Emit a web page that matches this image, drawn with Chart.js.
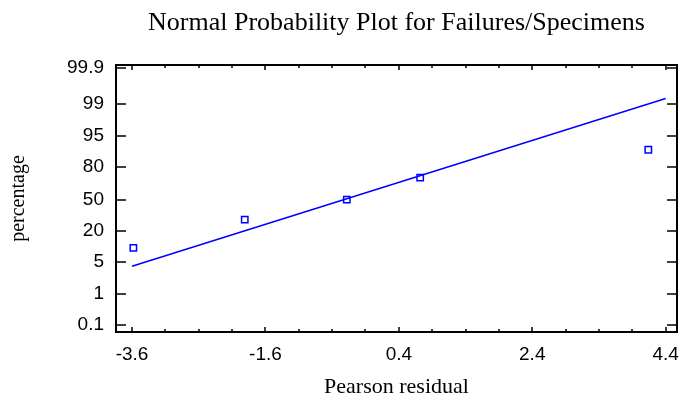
<!DOCTYPE html>
<html>
<head>
<meta charset="utf-8">
<script src="https://cdn.jsdelivr.net/npm/chart.js@4.4.0/dist/chart.umd.min.js"></script>
<style>
  html, body { margin: 0; padding: 0; background: #fff; }
</style>
</head>
<body>
<canvas id="chart" width="683" height="401"></canvas>
<script>
  // Pearson residuals and their normal scores
  const residuals = [-3.58, -1.91, -0.38, 0.72, 4.14];
  const normalScores = [-1.15, -0.47, 0.01, 0.54, 1.21];

  // fitted reference line (end points)
  const fitX = [-3.6, 4.4];
  const fitY = [-1.59, 2.44];

  // axis ticks
  const xTicks = [-3.6, -1.6, 0.4, 2.4, 4.4];
  const yTickLabels = ['0.1', '1', '5', '20', '50', '80', '95', '99', '99.9'];
  const yTickPos = [-3.0, -2.26, -1.48, -0.74, 0, 0.79, 1.55, 2.31, 3.18];

  const blue = '#0000ff';

  // box round the plot, ticks pointing inwards
  const frameTicks = {
    id: 'frameTicks',
    afterDatasetsDraw(chart) {
      const { ctx, chartArea: a, scales: { x, y } } = chart;
      ctx.save();
      ctx.strokeStyle = '#000';
      ctx.lineWidth = 2;
      ctx.strokeRect(a.left, a.top, a.right - a.left, a.bottom - a.top);
      ctx.lineWidth = 1.5;
      ctx.beginPath();
      y.ticks.forEach(t => {
        const py = Math.round(y.getPixelForValue(t.value));
        ctx.moveTo(a.left, py); ctx.lineTo(a.left + 10, py);
        ctx.moveTo(a.right, py); ctx.lineTo(a.right - 10, py);
      });
      const first = xTicks[0], last = xTicks[xTicks.length - 1];
      for (let k = 0; first + k * 0.5 <= last + 1e-9; k++) {
        const v = first + k * 0.5;
        const len = (k % 4 === 0) ? 5 : 3;
        const px = Math.round(x.getPixelForValue(v));
        ctx.moveTo(px, a.top); ctx.lineTo(px, a.top + len);
        ctx.moveTo(px, a.bottom); ctx.lineTo(px, a.bottom - len);
      }
      ctx.stroke();
      ctx.restore();
    }
  };

  const ctx = document.getElementById('chart').getContext('2d');
  const chart = new Chart(ctx, {
    type: 'scatter',
    data: {
      datasets: [
        {
          label: 'residuals',
          data: residuals.map((r, i) => ({ x: r, y: normalScores[i] })),
          pointStyle: 'rect',
          pointRadius: 4.5,
          borderColor: blue,
          backgroundColor: 'rgba(0,0,0,0)',
          borderWidth: 1.5
        },
        {
          label: 'fit',
          data: fitX.map((v, i) => ({ x: v, y: fitY[i] })),
          showLine: true,
          pointRadius: 0,
          borderColor: blue,
          borderWidth: 1.5
        }
      ]
    },
    options: {
      responsive: false,
      animation: false,
      devicePixelRatio: 1,
      layout: { padding: { left: 0, right: 5, top: 0, bottom: 0 } },
      plugins: {
        legend: { display: false },
        tooltip: { enabled: false },
        title: {
          display: true,
          fullSize: false,
          text: 'Normal Probability Plot for Failures/Specimens',
          color: '#000',
          font: { family: '"Liberation Serif", "Times New Roman", serif', size: 26, weight: 'normal', lineHeight: 1.2 },
          padding: { top: 8, bottom: 25.8 }
        }
      },
      scales: {
        x: {
          type: 'linear',
          min: -3.84,
          max: 4.57,
          grid: { display: false, drawTicks: false },
          border: { display: false },
          afterBuildTicks: s => { s.ticks = xTicks.map(v => ({ value: v })); },
          afterFit: s => { s.height = 69; s.paddingLeft = 0; s.paddingRight = 0; },
          ticks: {
            autoSkip: false,
            maxRotation: 0,
            padding: 11,
            color: '#000',
            font: { family: '"Liberation Sans", Arial, sans-serif', size: 19 },
            callback: v => v.toFixed(1)
          },
          title: {
            display: true,
            text: 'Pearson residual',
            color: '#000',
            font: { family: '"Liberation Serif", "Times New Roman", serif', size: 22 },
            padding: { top: 0, bottom: 1 }
          }
        },
        y: {
          type: 'linear',
          min: -3.17,
          max: 3.245,
          grid: { display: false, drawTicks: false },
          border: { display: false },
          afterBuildTicks: s => { s.ticks = yTickPos.map(v => ({ value: v })); },
          afterFit: s => { s.width = 116; },
          ticks: {
            autoSkip: false,
            padding: 12,
            color: '#000',
            font: { family: '"Liberation Sans", Arial, sans-serif', size: 19 },
            callback: (v, i) => yTickLabels[i]
          },
          title: {
            display: true,
            text: 'percentage',
            color: '#000',
            font: { family: '"Liberation Serif", "Times New Roman", serif', size: 20 },
            padding: { top: 7, bottom: 0 }
          }
        }
      }
    },
    plugins: [frameTicks]
  });
</script>
</body>
</html>
